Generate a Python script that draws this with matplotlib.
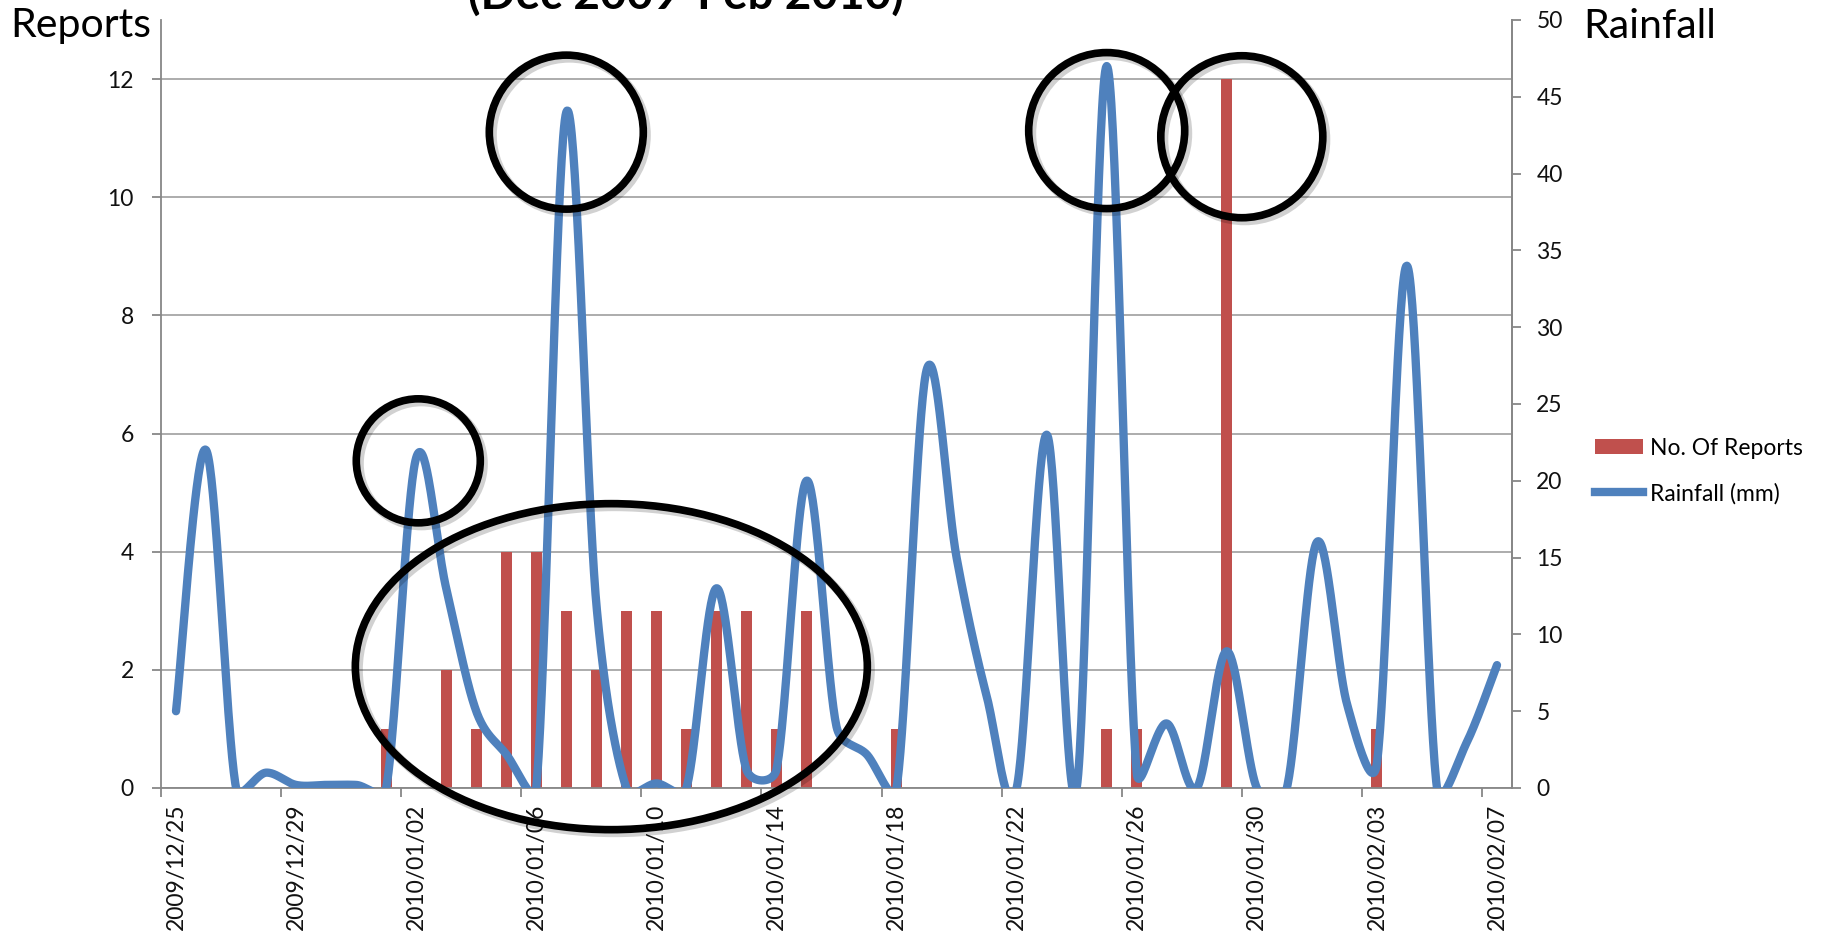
import numpy as np
import pandas as pd
import matplotlib
matplotlib.use('Agg')
import matplotlib.pyplot as plt
from matplotlib.patches import Ellipse, Patch
from matplotlib.lines import Line2D

plt.rcParams['font.family'] = ['Lato', 'DejaVu Sans']

# daily data, 2009/12/25 .. 2010/02/07
dates = pd.date_range('2009-12-25', '2010-02-07', freq='D')
date_labels = [d.strftime('%Y/%m/%d') for d in dates]

reports = [0, 0, 0, 0, 0, 0, 0, 1, 0, 2,
           1, 4, 4, 3, 2, 3, 3, 1, 3, 3,
           1, 3, 0, 0, 1, 0, 0, 0, 0, 0,
           0, 1, 1, 0, 0, 12, 0, 0, 0, 0,
           1, 0, 0, 0, 0]

rainfall = [5, 22, 0, 1, 0.2, 0.2, 0.2, 0, 21.5, 13,
            5, 2.2, 0, 44, 12, 0, 0.3, 0, 13, 1.2,
            1.2, 20, 4, 2.2, 0, 27.2, 15, 6, 0, 23,
            0, 47, 1, 4.2, 0, 8.9, 0, 0, 16, 5.5,
            1.6, 34, 0, 3, 8]

# highlighted spots: (day index, rainfall mm, width px, height px)
highlights = [(8.07, 21.3, 124, 124),
              (13.0, 42.7, 154, 154),
              (31.0, 42.8, 156, 156),
              (35.5, 42.4, 162, 162),
              (14.5, 7.9, 512, 326)]

bar_col = '#C0504D'
line_col = '#4F81BD'
W, H = 1825, 936


def excel_smooth(pts, n=40):
    # bezier smoothing like excel's "smoothed line" (control pts capped)
    out = [pts[0]]
    for i in range(len(pts) - 1):
        p0 = pts[i - 1] if i > 0 else pts[i]
        p1, p2 = pts[i], pts[i + 1]
        p3 = pts[i + 2] if i + 2 < len(pts) else pts[i + 1]
        d02 = np.hypot(*(p2 - p0))
        d12 = np.hypot(*(p2 - p1))
        d13 = np.hypot(*(p3 - p1))
        f1 = 1 / 6 if d02 / 6 < d12 / 2 else d12 / (2 * d02)
        f2 = 1 / 6 if d13 / 6 < d12 / 2 else d12 / (2 * d13)
        c1 = p1 + f1 * (p2 - p0)
        c2 = p2 - f2 * (p3 - p1)
        t = np.linspace(0, 1, n)[1:, None]
        seg = ((1 - t) ** 3) * p1 + 3 * ((1 - t) ** 2) * t * c1 \
            + 3 * (1 - t) * (t ** 2) * c2 + (t ** 3) * p2
        out.extend(seg)
    return np.array(out)


fig = plt.figure(figsize=(W / 100, H / 100), dpi=100)
ax = fig.add_axes([161 / W, 1 - 788 / H, (1512 - 161) / W, (788 - 20) / H])
ax2 = ax.twinx()

x = np.arange(len(dates))

ax.bar(x, reports, width=0.37, color=bar_col, zorder=2)
ax.set_xlim(-0.5, len(dates) - 0.5)
ax.set_ylim(0, 13)
ax.set_yticks(range(0, 13, 2))
ax.grid(axis='y', color='#A6A6A6', lw=1.3)
ax.set_axisbelow(True)

ax2.set_xlim(-0.5, len(dates) - 0.5)
ax2.set_ylim(0, 50)
ax2.set_yticks(range(0, 51, 5))

pts = ax2.transData.transform(np.column_stack([x, rainfall]))
curve = ax2.transData.inverted().transform(excel_smooth(pts))
ax2.plot(curve[:, 0], curve[:, 1], color=line_col, lw=6,
         solid_capstyle='round', solid_joinstyle='round')

# x axis: labels every 4 days, ticks on category edges
ax.set_xticks(x[::4])
ax.set_xticklabels(date_labels[::4], rotation=90, va='top', ha='center')
ax.set_xticks(x[::4] - 0.5, minor=True)
ax.tick_params(axis='x', which='major', length=0, pad=11, labelsize=16.5, labelcolor='#111')
ax.tick_params(axis='x', which='minor', length=6.5, width=1.3, color='#878787')
ax.tick_params(axis='y', length=6.5, width=1.3, color='#878787', pad=13,
               labelsize=16.5, labelcolor='#111')
ax2.tick_params(axis='y', length=6.5, width=1.3, color='#878787', pad=11,
                labelsize=16.5, labelcolor='#111')

for a in (ax, ax2):
    a.spines['top'].set_visible(False)
    for s in ('left', 'right', 'bottom'):
        a.spines[s].set_color('#878787')
        a.spines[s].set_linewidth(1.3)
ax2.spines['left'].set_visible(False)
ax2.spines['bottom'].set_visible(False)

fig.text(10 / W, 1 - 26 / H, 'Reports', fontsize=29.5, va='center', ha='left')
fig.text(1583 / W, 1 - 26 / H, 'Rainfall', fontsize=29.5, va='center', ha='left')
fig.text(686 / W, 1 - 9 / H, '(Dec 2009-Feb 2010)', fontsize=33,
         fontweight='bold', ha='center', va='baseline')

handles = [Patch(facecolor=bar_col), Line2D([0], [0], color=line_col, lw=6)]
fig.legend(handles, ['No. Of Reports', 'Rainfall (mm)'], loc='center left',
           bbox_to_anchor=(1595 / W, 1 - 471 / H), frameon=False, fontsize=16.5,
           handlelength=2.1, handleheight=0.65, handletextpad=0.3,
           labelspacing=1.05, borderpad=0, borderaxespad=0)

# hand-drawn style circles on top
over = fig.add_axes([0, 0, 1, 1])
over.set_xlim(0, W)
over.set_ylim(0, H)
over.axis('off')
over.patch.set_alpha(0)
for d, mm, w, h in highlights:
    cx, cy = ax2.transData.transform((d, mm))
    over.add_patch(Ellipse((cx + 3, cy - 3), w, h, fill=False, lw=6.5,
                           ec='#000000', alpha=0.18, clip_on=False))
    over.add_patch(Ellipse((cx, cy), w, h, fill=False, lw=5.5,
                           ec='#000000', clip_on=False))

fig.savefig('out.png', dpi=100)
